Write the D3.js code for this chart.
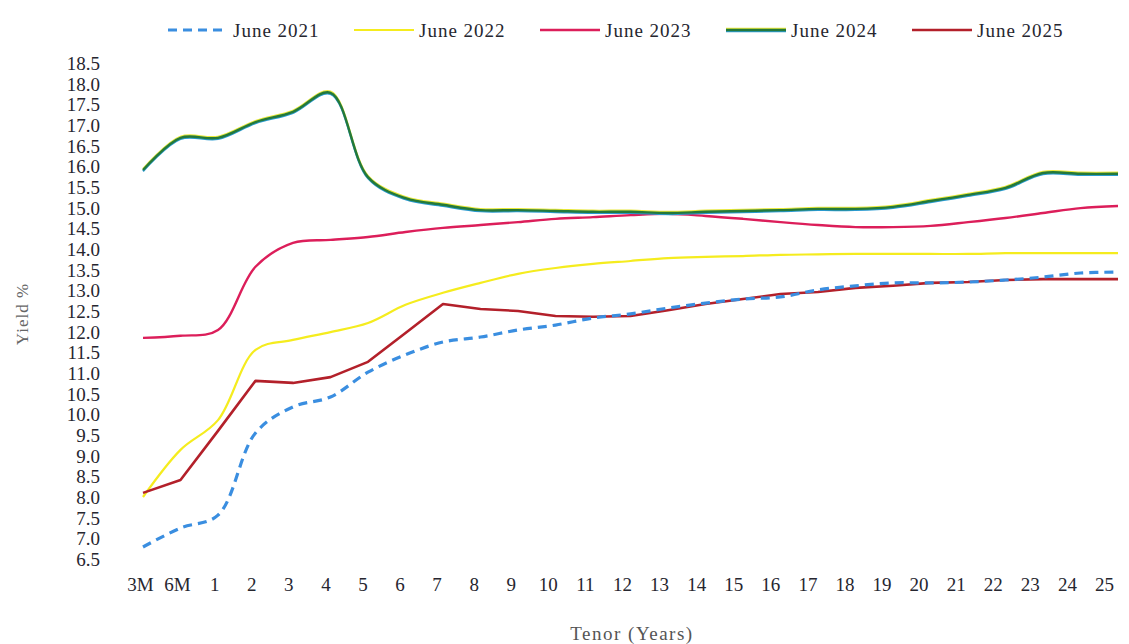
<!DOCTYPE html>
<html>
<head>
<meta charset="utf-8">
<title>Yield curves</title>
<style>
body { margin: 0; background: #fff; }
svg text { font-family: "Liberation Serif", "DejaVu Serif", serif; fill: #26262f; }
</style>
</head>
<body>
<script src="https://cdn.jsdelivr.net/npm/d3@7/dist/d3.min.js"></script>
<script>
// tenors along the x axis
var tenors = ["3M", "6M", "1", "2", "3", "4", "5", "6", "7", "8", "9", "10", "11", "12", "13",
              "14", "15", "16", "17", "18", "19", "20", "21", "22", "23", "24", "25"];

var yTicks = [6.5, 7, 7.5, 8, 8.5, 9, 9.5, 10, 10.5, 11, 11.5, 12, 12.5, 13, 13.5, 14, 14.5,
              15, 15.5, 16, 16.5, 17, 17.5, 18, 18.5];

var seriesNames = ["June 2021", "June 2022", "June 2023", "June 2024", "June 2025"];

var june2021 = [6.79, 7.25, 7.56, 9.55, 10.18, 10.42, 11.02, 11.44, 11.75, 11.87, 12.04, 12.16, 12.33,
                12.43, 12.57, 12.69, 12.79, 12.84, 13.01, 13.11, 13.18, 13.18, 13.2, 13.25, 13.32, 13.42, 13.44];
var june2022 = [8.0, 9.14, 9.86, 11.56, 11.8, 11.99, 12.21, 12.65, 12.94, 13.18, 13.4, 13.54, 13.64,
                13.71, 13.78, 13.81, 13.83, 13.86, 13.87, 13.88, 13.88, 13.88, 13.88, 13.9, 13.9, 13.9, 13.9];
var june2023 = [11.85, 11.9, 12.04, 13.57, 14.15, 14.22, 14.29, 14.41, 14.51, 14.58, 14.65, 14.73, 14.77,
                14.82, 14.85, 14.8, 14.73, 14.65, 14.58, 14.53, 14.53, 14.56, 14.65, 14.75, 14.87, 14.99, 15.04];
var june2024 = [15.91, 16.69, 16.69, 17.07, 17.32, 17.78, 15.74, 15.23, 15.07, 14.94, 14.94, 14.92, 14.9,
                14.9, 14.87, 14.9, 14.92, 14.94, 14.97, 14.97, 15.02, 15.16, 15.31, 15.48, 15.84, 15.82, 15.82];
var june2025 = [8.1, 8.41, 9.6, 10.81, 10.76, 10.9, 11.27, 11.97, 12.67, 12.55, 12.5, 12.38, 12.36,
                12.38, 12.52, 12.67, 12.79, 12.91, 12.96, 13.06, 13.11, 13.18, 13.2, 13.25, 13.27, 13.27, 13.27];

var colors = ["#3a8ee0", "#f5ec1e", "#dc1e5a", "#24793a", "#b3202a"];

var width = 1129, height = 644;

var svg = d3.select("body").append("svg")
    .attr("width", width)
    .attr("height", height);

// lines and tick labels sit on slightly different spans in the original
var x = d3.scalePoint().domain(tenors).range([143, 1118]);
var xLabels = d3.scalePoint().domain(tenors).range([140, 1104]);

var y = d3.scaleLinear().domain([6.5, 18.5]).range([559, 63]);

var yAxis = d3.axisLeft(y).tickValues(yTicks).tickFormat(d3.format(".1f")).tickSize(0).tickPadding(0);
var gy = svg.append("g")
    .attr("transform", "translate(100,0)")
    .call(yAxis)
    .attr("font-family", null)
    .attr("font-size", null);
gy.select(".domain").remove();
gy.selectAll("text").style("font-size", "19px").attr("dy", "0.35em");

var xAxis = d3.axisBottom(xLabels).tickSize(0).tickPadding(0);
var gx = svg.append("g")
    .attr("transform", "translate(0,577)")
    .call(xAxis)
    .attr("font-family", null)
    .attr("font-size", null);
gx.select(".domain").remove();
gx.selectAll("text").style("font-size", "19px").attr("dy", "0.71em");

svg.append("text")
    .attr("x", 632)
    .attr("y", 640)
    .style("text-anchor", "middle")
    .style("font-size", "19px")
    .style("letter-spacing", "1.5px")
    .style("fill", "#555")
    .text("Tenor (Years)");

svg.append("text")
    .attr("transform", "translate(28,314) rotate(-90)")
    .style("text-anchor", "middle")
    .style("font-size", "17px")
    .style("letter-spacing", "1px")
    .style("fill", "#666")
    .text("Yield %");

var allSeries = [june2021, june2022, june2023, june2024, june2025];

var smooth = d3.line()
    .x(function(d, i) { return x(tenors[i]); })
    .y(function(d) { return y(d); })
    .curve(d3.curveCatmullRom.alpha(0.5));

var straight = d3.line()
    .x(function(d, i) { return x(tenors[i]); })
    .y(function(d) { return y(d); });

var widths = [3.2, 2.2, 2.4, 2.4, 2.6];

// the 2024 curve is printed with a yellow edge above and a blue edge below
function fringe(sel, d, gen) {
  sel.append("path").datum(d)
      .attr("fill", "none").attr("stroke", "#e8e83a").attr("stroke-width", 2)
      .attr("transform", "translate(0,-1.2)").attr("d", gen);
  sel.append("path").datum(d)
      .attr("fill", "none").attr("stroke", "#2a9ad0").attr("stroke-width", 2)
      .attr("transform", "translate(0,1.2)").attr("d", gen);
}

// draw order: 2023, 2022, 2024, 2025, 2021 dashed on top
[2, 1, 3, 4, 0].forEach(function(i) {
  if (i == 3) fringe(svg, allSeries[i], smooth);
  var path = svg.append("path")
      .datum(allSeries[i])
      .attr("fill", "none")
      .attr("stroke", colors[i])
      .attr("stroke-width", widths[i])
      .attr("stroke-linejoin", "round")
      .attr("d", i == 4 ? straight : smooth);
  if (i == 0) path.attr("stroke-dasharray", "9,6");
});

// legend
var legend = svg.selectAll(".legend")
    .data(seriesNames)
  .enter().append("g")
    .attr("class", "legend")
    .attr("transform", function(d, i) { return "translate(" + (168 + i * 186) + ",30)"; });

legend.filter(function(d, i) { return i == 3; }).each(function() {
  var g = d3.select(this);
  g.append("line").attr("x1", 0).attr("x2", 60).attr("y1", -1.2).attr("y2", -1.2)
      .attr("stroke", "#e8e83a").attr("stroke-width", 2);
  g.append("line").attr("x1", 0).attr("x2", 60).attr("y1", 1.2).attr("y2", 1.2)
      .attr("stroke", "#2a9ad0").attr("stroke-width", 2);
});

legend.append("line")
    .attr("x1", 0)
    .attr("x2", 60)
    .attr("stroke", function(d, i) { return colors[i]; })
    .attr("stroke-width", function(d, i) { return widths[i]; })
    .attr("stroke-dasharray", function(d, i) { return i == 0 ? "9,6" : null; });

legend.append("text")
    .attr("x", 65)
    .attr("dy", "0.35em")
    .style("font-size", "19px")
    .style("letter-spacing", "1px")
    .text(function(d) { return d; });
</script>
</body>
</html>
